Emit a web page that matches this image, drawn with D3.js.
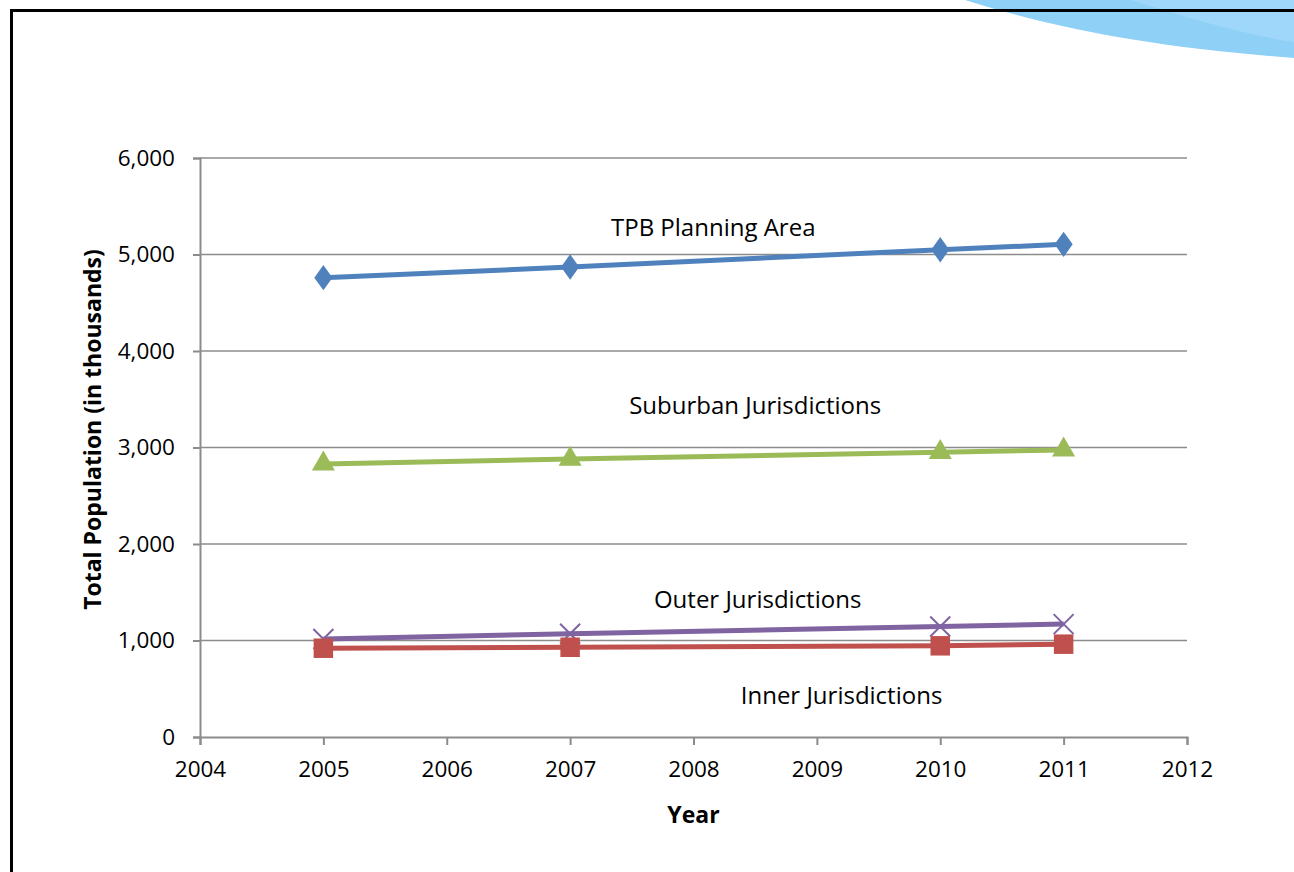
<!DOCTYPE html>
<html>
<head>
<meta charset="utf-8">
<script src="https://cdn.jsdelivr.net/npm/d3@7"></script>
<style>
  body { margin: 0; background: #fff; }
  svg text { font-family: "Open Sans", "Liberation Sans", sans-serif; fill: #000; }
</style>
</head>
<body>
<div id="chart"></div>
<script>
// Daten
var years = [2005, 2007, 2010, 2011];
var tpbArea = [4760, 4870, 5050, 5105];
var suburban = [2830, 2880, 2950, 2975];
var outer = [1015, 1070, 1145, 1170];
var inner = [920, 930, 945, 962];
var yTicks = [0, 1000, 2000, 3000, 4000, 5000, 6000];
var xTicks = [2004, 2005, 2006, 2007, 2008, 2009, 2010, 2011, 2012];

var seriesNames = ["TPB Planning Area", "Suburban Jurisdictions", "Outer Jurisdictions", "Inner Jurisdictions"];
var seriesValues = [tpbArea, suburban, outer, inner];
var seriesColors = ["#4f81bd", "#9bbb59", "#8064a2", "#c0504d"];
var seriesMarkers = ["diamond", "triangle", "x", "square"];
// Beschriftung: [Jahr, Wert] wo der Text steht
var labelPos = [[2008.16, 5190], [2008.5, 3350], [2008.52, 1340], [2009.2, 340]];

var W = 1294, H = 872;
var margin = { top: 158, right: 107, bottom: 135, left: 200 };
var width = W - margin.left - margin.right;
var height = H - margin.top - margin.bottom;

var root = d3.select("#chart").append("svg")
  .attr("width", W)
  .attr("height", H);

// Deko oben rechts
root.append("path")
  .attr("d", "M965,0 C1060,30 1160,48 1294,58 L1294,0 Z")
  .attr("fill", "#8fd0f7");
root.append("path")
  .attr("d", "M1130,0 C1190,18 1240,34 1294,42 L1294,0 Z")
  .attr("fill", "#a4daf9")
  .attr("opacity", 0.7);

// Rahmen
root.append("path")
  .attr("d", "M11.5," + H + " L11.5,10.5 L" + W + ",10.5")
  .attr("fill", "none")
  .attr("stroke", "#000")
  .attr("stroke-width", 3);

var svg = root.append("g")
  .attr("transform", "translate(" + margin.left + "," + margin.top + ")");

var x = d3.scaleLinear().domain([2004, 2012]).range([0, width]);
var y = d3.scaleLinear().domain([0, 6000]).range([height, 0]);

// Gitterlinien
svg.append("g")
  .selectAll("line")
  .data(yTicks.filter(function (d) { return d > 0; }))
  .enter().append("line")
  .attr("x1", 0)
  .attr("x2", width)
  .attr("y1", function (d) { return y(d); })
  .attr("y2", function (d) { return y(d); })
  .attr("stroke", "#8c8c8c")
  .attr("stroke-width", 1.5);

// Achsen
var yAxis = d3.axisLeft(y)
  .tickValues(yTicks)
  .tickSize(7)
  .tickPadding(18)
  .tickFormat(d3.format(","));
var xAxis = d3.axisBottom(x)
  .tickValues(xTicks)
  .tickSize(8)
  .tickPadding(16)
  .tickFormat(d3.format("d"));

var gy = svg.append("g").attr("class", "y axis").call(yAxis);
var gx = svg.append("g").attr("class", "x axis")
  .attr("transform", "translate(0," + height + ")")
  .call(xAxis);

[gx, gy].forEach(function (g) {
  g.select(".domain").attr("stroke", "#8c8c8c").attr("stroke-width", 2);
  g.selectAll(".tick line").attr("stroke", "#8c8c8c").attr("stroke-width", 2);
  g.selectAll(".tick text").style("font-size", "22.5px").attr("fill", "#000");
});

// Linien
var line = d3.line()
  .x(function (d, i) { return x(years[i]); })
  .y(function (d) { return y(d); });

var markerPath = {
  diamond: d3.symbol().type(d3.symbolDiamond2).size(210),
  square: d3.symbol().type(d3.symbolSquare).size(380),
  triangle: d3.symbol().type(d3.symbolTriangle).size(230)
};

seriesValues.forEach(function (vals, s) {
  var color = seriesColors[s];
  svg.append("path")
    .datum(vals)
    .attr("fill", "none")
    .attr("stroke", color)
    .attr("stroke-width", 5)
    .attr("d", line);

  var pts = svg.append("g").selectAll("g")
    .data(vals)
    .enter().append("g")
    .attr("transform", function (d, i) {
      return "translate(" + x(years[i]) + "," + y(d) + ")";
    });

  var m = seriesMarkers[s];
  if (m === "x") {
    pts.append("path")
      .attr("d", "M-10,-10L10,10M-10,10L10,-10")
      .attr("stroke", color)
      .attr("stroke-width", 2);
  } else {
    pts.append("path")
      .attr("d", markerPath[m]())
      .attr("fill", color)
      .attr("transform", m === "diamond" ? "scale(1,1.4)" : null);
  }

  svg.append("text")
    .attr("x", x(labelPos[s][0]))
    .attr("y", y(labelPos[s][1]))
    .attr("text-anchor", "middle")
    .style("font-size", "24px")
    .text(seriesNames[s]);
});

// Achsentitel
svg.append("text")
  .attr("x", x(2008))
  .attr("y", height + 86)
  .attr("text-anchor", "middle")
  .style("font-size", "23px")
  .style("font-weight", "bold")
  .text("Year");

svg.append("text")
  .attr("transform", "translate(-99," + (height / 2 - 18) + ") rotate(-90)")
  .attr("text-anchor", "middle")
  .style("font-size", "23px")
  .style("font-weight", "bold")
  .text("Total Population (in thousands)");
</script>
</body>
</html>
